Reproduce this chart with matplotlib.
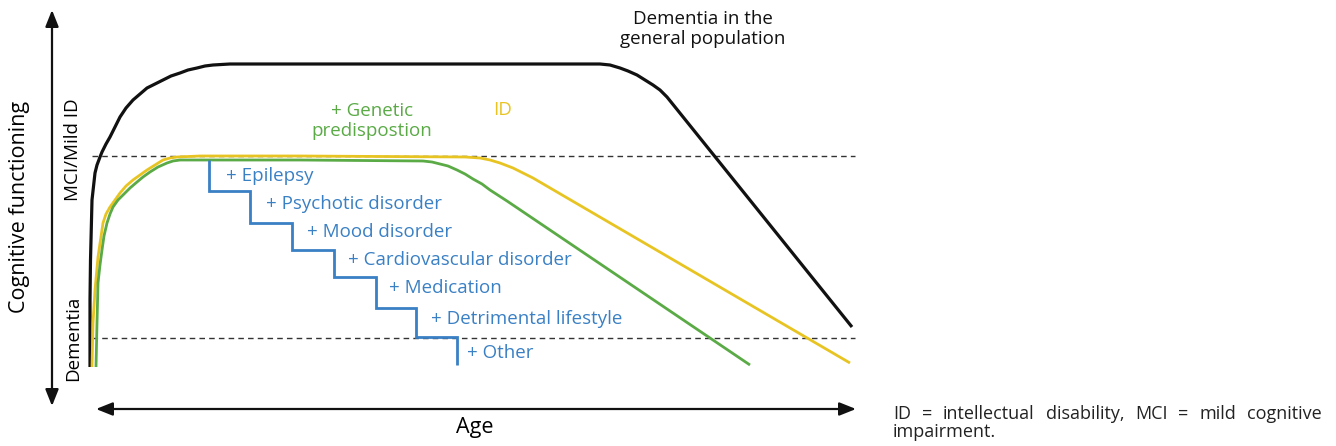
#!/usr/bin/env python3
# conceptual diagram: cognitive functioning over age
import matplotlib.pyplot as plt

# curves (x, y in picture pixels, y down)
general_x = [90, 90, 90.5, 91, 92, 95, 97, 100, 102, 106, 110, 115, 120, 126, 133, 140, 147, 155, 163, 171, 180,
             188, 197, 205, 213, 230, 260, 450, 600, 610, 620, 628, 637, 645, 653, 660, 667, 852]
general_y = [367, 300, 260, 240, 200, 173, 165, 157, 152, 144, 137, 127, 117, 108, 100, 94, 88, 84, 80, 76, 73,
             70, 68, 66, 65, 64, 64, 64, 64, 65, 68, 71, 75, 80, 85, 90, 97, 327]

id_x = [92, 92.5, 93, 95, 98, 103, 106, 110, 115, 120, 126, 133, 140, 147, 155, 163, 170, 177, 200, 300,
        465, 480, 490, 500, 513, 523, 533, 850]
id_y = [367, 345, 323, 290, 257, 223, 214, 207, 200, 193, 186, 180, 175, 170, 165, 160, 158, 157, 156, 156,
        157, 158, 160, 163, 168, 173, 178, 363]

gen_x = [96, 96.5, 97, 98, 100, 102, 104, 107, 110, 113, 118, 123, 130, 137, 143, 150, 158, 167, 173, 180, 200, 300,
         423, 432, 440, 448, 457, 465, 473, 482, 490, 507, 750]
gen_y = [367, 345, 323, 283, 265, 250, 236, 223, 214, 207, 200, 195, 188, 182, 177, 172, 167, 163, 161, 160, 160, 160,
         161, 162, 164, 166, 170, 174, 179, 184, 190, 201, 365]

step_x = [209, 209, 250, 250, 292, 292, 334, 334, 376, 376, 416, 416, 457, 457]
step_y = [160, 191, 191, 223, 223, 250, 250, 277, 277, 308, 308, 337, 337, 365]

factors = ["+ Epilepsy", "+ Psychotic disorder", "+ Mood disorder", "+ Cardiovascular disorder",
           "+ Medication", "+ Detrimental lifestyle", "+ Other"]
factor_x = [226, 266, 307, 348, 389, 431, 467]
factor_y = [176, 204, 232, 260, 288, 319, 353]

threshold_y = [156, 338]

caption_1 = "ID = intellectual disability, MCI = mild cognitive"
caption_2 = "impairment."

BLACK = "#111111"
YELLOW = "#e8c422"
GREEN = "#5aaa46"
BLUE = "#3a80c4"
FONT = "Open Sans"

plt.rcParams['font.family'] = [FONT, 'DejaVu Sans']

fig = plt.figure(figsize=(13.36, 4.46), dpi=100)
ax = fig.add_axes([0, 0, 1, 1])
ax.set_xlim(0, 1336)
ax.set_ylim(446, 0)
ax.axis('off')

# axes arrows
arrow = dict(arrowstyle='<|-|>,head_length=1.0,head_width=0.4', color=BLACK, lw=1.6, shrinkA=0, shrinkB=0)
ax.annotate('', xy=(52, 10), xytext=(52, 406), arrowprops=arrow)
ax.annotate('', xy=(96, 409), xytext=(856, 409), arrowprops=arrow)

# thresholds
for ty in threshold_y:
    ax.plot([92, 855], [ty, ty], color='#333333', lw=1.0, ls=(0, (4, 3)))

ax.plot(general_x, general_y, color=BLACK, lw=2.3, solid_capstyle='butt')
ax.plot(id_x, id_y, color=YELLOW, lw=2.0, solid_capstyle='butt')
ax.plot(gen_x, gen_y, color=GREEN, lw=2.0, solid_capstyle='butt')
ax.plot(step_x, step_y, color=BLUE, lw=2.0, solid_capstyle='butt', solid_joinstyle='miter')

for label, fx, fy in zip(factors, factor_x, factor_y):
    ax.text(fx, fy, label, color=BLUE, fontsize=13.5, ha='left', va='center')

ax.text(372, 121, "+ Genetic\npredispostion", color=GREEN, fontsize=13.5, ha='center', va='center',
        linespacing=1.2)
ax.text(503, 110, "ID", color=YELLOW, fontsize=13.5, ha='center', va='center')
ax.text(703, 29, "Dementia in the\ngeneral population", color=BLACK, fontsize=13.5, ha='center',
        va='center', linespacing=1.2)

ax.text(20, 207, "Cognitive functioning", fontsize=15.5, rotation=90, ha='center', va='center')
ax.text(73, 150, "MCI/Mild ID", fontsize=13.5, rotation=90, ha='center', va='center')
ax.text(73, 338, "Dementia", fontsize=13.5, rotation=90, ha='center', va='center')
ax.text(475, 428, "Age", fontsize=15.5, ha='center', va='center')

# justified caption line
words = caption_1.split()
left, right = 893, 1322
fig.canvas.draw()
r = fig.canvas.get_renderer()
arts = [ax.text(0, 414, w, fontsize=13, color='#222222', ha='left', va='center') for w in words]
widths = [a.get_window_extent(renderer=r).width for a in arts]
gap = ((right - left) - sum(widths)) / (len(words) - 1)
xpos = left
for a, w in zip(arts, widths):
    a.set_x(xpos)
    xpos += w + gap
ax.text(left, 432, caption_2, fontsize=13, color='#222222', ha='left', va='center')

fig.savefig('out.png', dpi=100)
